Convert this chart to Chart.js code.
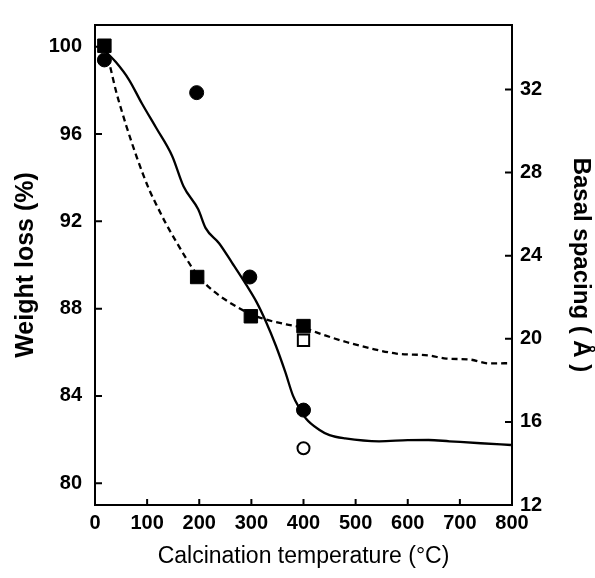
<!DOCTYPE html>
<html>
<head>
<meta charset="utf-8">
<script src="https://cdn.jsdelivr.net/npm/chart.js@4.4.1/dist/chart.umd.min.js"></script>
<style>
  html, body { margin: 0; padding: 0; background: #fff; }
  canvas { display: block; }
</style>
</head>
<body>
<canvas id="c" width="595" height="578"></canvas>
<script>
// ---- Data ----
const xTicks = [0, 100, 200, 300, 400, 500, 600, 700, 800];
const leftTicks = [80, 84, 88, 92, 96, 100];
const rightTicks = [12, 16, 20, 24, 28, 32];

// Solid weight-loss curve
const solidT = [20, 40, 65, 90, 117, 148, 170, 198, 212, 238, 263, 290, 310, 328, 347, 365, 380, 392, 405, 430, 450, 480, 545, 600, 640, 680, 740, 798];
const solidW = [99.8, 99.3, 98.5, 97.4, 96.3, 95.0, 93.6, 92.55, 91.7, 91.0, 90.1, 89.1, 88.3, 87.4, 86.3, 85.1, 84.0, 83.45, 82.95, 82.45, 82.2, 82.05, 81.92, 81.97, 81.98, 81.92, 81.83, 81.75];

// Dashed weight-loss curve
const dashT = [20, 27, 40, 52, 60, 80, 104, 117, 136, 155, 175, 196, 225, 257, 299, 328, 367, 397, 443, 482, 532, 578, 641, 674, 718, 756, 798];
const dashW = [99.95, 99.3, 98.0, 97.0, 96.38, 94.95, 93.45, 92.8, 91.9, 91.1, 90.3, 89.55, 88.85, 88.3, 87.75, 87.5, 87.28, 87.14, 86.76, 86.47, 86.16, 85.94, 85.85, 85.71, 85.67, 85.49, 85.5];

// Markers
const filledCircleT = [18, 195, 297, 400];
const filledCircleV = [99.4, 97.9, 89.45, 83.35];
const openCircleT = [400];
const openCircleV = [81.6];
const filledSquareT = [18, 196, 299, 400];
const filledSquareV = [100.05, 89.45, 87.65, 87.2];
const openSquareT = [400];
const openSquareV = [86.55];

const pts = (xs, ys) => xs.map((x, i) => ({ x: x, y: ys[i] }));
const FONT = "'Liberation Sans', Arial, Helvetica, sans-serif";

const frameTicks = {
  id: 'frameTicks',
  afterDraw(chart) {
    const { ctx, chartArea: { left, right, top, bottom } } = chart;
    const { x, y, y2 } = chart.scales;
    ctx.save();
    ctx.strokeStyle = '#000';
    ctx.lineWidth = 2;
    ctx.strokeRect(left, top, right - left, bottom - top);
    ctx.beginPath();
    xTicks.forEach(v => {
      if (v <= 0 || v >= 800) return;
      const px = x.getPixelForValue(v);
      ctx.moveTo(px, bottom); ctx.lineTo(px, bottom - 6);
    });
    leftTicks.forEach(v => {
      const py = y.getPixelForValue(v);
      ctx.moveTo(left, py); ctx.lineTo(left + 7, py);
    });
    rightTicks.forEach(v => {
      const py = y2.getPixelForValue(v);
      if (Math.abs(py - bottom) < 2) return;
      ctx.moveTo(right, py); ctx.lineTo(right - 7, py);
    });
    ctx.stroke();
    ctx.restore();
  }
};

new Chart(document.getElementById('c'), {
  type: 'scatter',
  data: {
    datasets: [
      { label: 'Filled circles', data: pts(filledCircleT, filledCircleV), order: 1,
        pointStyle: 'circle', pointRadius: 7, backgroundColor: '#000', borderColor: '#000', borderWidth: 1, showLine: false },
      { label: 'Open circle', data: pts(openCircleT, openCircleV), order: 1,
        pointStyle: 'circle', pointRadius: 6, backgroundColor: '#fff', borderColor: '#000', borderWidth: 2, showLine: false },
      { label: 'Filled squares', data: pts(filledSquareT, filledSquareV), order: 1,
        pointStyle: 'rect', pointRadius: 9.5, backgroundColor: '#000', borderColor: '#000', borderWidth: 1, showLine: false },
      { label: 'Open square', data: pts(openSquareT, openSquareV), order: 1,
        pointStyle: 'rect', pointRadius: 8, backgroundColor: '#fff', borderColor: '#000', borderWidth: 2, showLine: false },
      { label: 'Solid', data: pts(solidT, solidW), order: 2, showLine: true,
        borderColor: '#000', borderWidth: 2.3, pointRadius: 0, cubicInterpolationMode: 'monotone', fill: false },
      { label: 'Dashed', data: pts(dashT, dashW), order: 2, showLine: true,
        borderColor: '#000', borderWidth: 2.3, borderDash: [6, 4], pointRadius: 0, cubicInterpolationMode: 'monotone', fill: false }
    ]
  },
  options: {
    responsive: false,
    animation: false,
    devicePixelRatio: 1,
    layout: { padding: { top: 14, left: 0, right: 0, bottom: 0 } },
    plugins: { legend: { display: false }, tooltip: { enabled: false } },
    scales: {
      x: {
        type: 'linear', position: 'bottom', min: 0, max: 800,
        afterFit(s) { s.height = 73; },
        afterBuildTicks(s) { s.ticks = xTicks.map(v => ({ value: v })); },
        grid: { display: false, drawTicks: false },
        border: { display: false },
        ticks: { color: '#000', padding: 6, maxRotation: 0, autoSkip: false,
                 font: { family: FONT, size: 20, weight: 'bold' } },
        title: { display: true, text: 'Calcination temperature (°C)', color: '#000',
                 padding: { top: 0, bottom: 8 }, font: { family: FONT, size: 23 } }
      },
      y: {
        type: 'linear', position: 'left', min: 79, max: 101,
        afterFit(s) { s.width = 95; },
        afterBuildTicks(s) { s.ticks = leftTicks.map(v => ({ value: v })); },
        grid: { display: false, drawTicks: false },
        border: { display: false },
        ticks: { color: '#000', padding: 13, font: { family: FONT, size: 20, weight: 'bold' } },
        title: { display: true, text: 'Weight loss (%)', color: '#000',
                 padding: { top: 11, bottom: 0 }, font: { family: FONT, size: 25, weight: 'bold' } }
      },
      y2: {
        type: 'linear', position: 'right', min: 12, max: 35.1,
        afterFit(s) { s.width = 83; },
        afterBuildTicks(s) { s.ticks = rightTicks.map(v => ({ value: v })); },
        grid: { display: false, drawTicks: false },
        border: { display: false },
        ticks: { color: '#000', padding: 8, font: { family: FONT, size: 20, weight: 'bold' } },
        title: { display: true, text: 'Basal spacing ( Å )', color: '#000',
                 padding: { top: 0, bottom: 0 }, font: { family: FONT, size: 24, weight: 'bold' } }
      }
    }
  },
  plugins: [frameTicks]
});
</script>
</body>
</html>
